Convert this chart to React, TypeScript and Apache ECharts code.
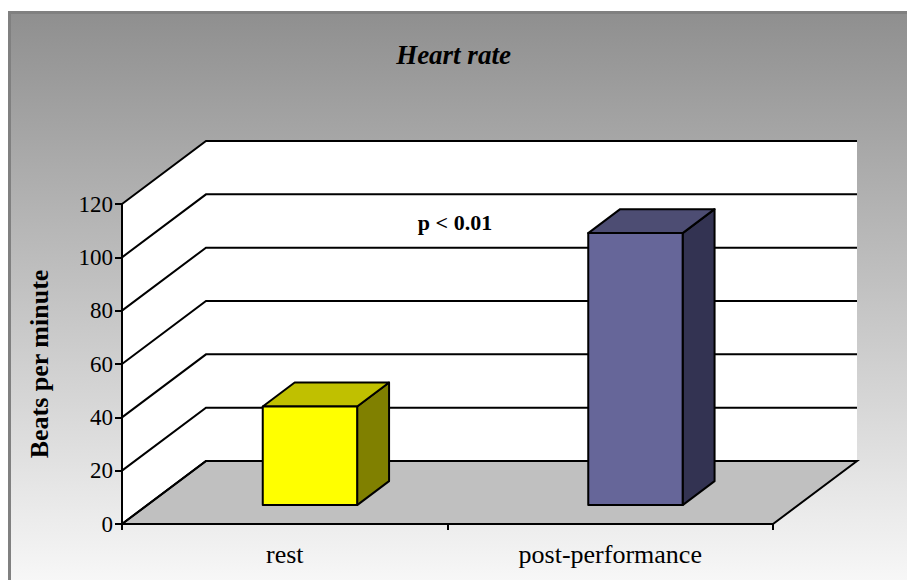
import React, { useEffect, useRef } from "react";
import * as echarts from "echarts";

const categories = ["rest", "post-performance"];
const beatsPerMinute = [37, 102];
const yTicks = [0, 20, 40, 60, 80, 100, 120];
const faceColors = ["#FFFF00", "#666699"];
const topColors = ["#C0C000", "#4D4D73"];
const sideColors = ["#808000", "#333352"];
const annotation = "p < 0.01";

const DX = 84;
const DY = -63;
const F1 = 0.3;
const F2 = 0.68;
const BAR_FRAC = 0.29;
const FONT = "'Liberation Serif', 'Times New Roman', serif";

export default function App() {
  const ref = useRef<HTMLDivElement>(null);
  useEffect(() => {
    if (!ref.current) return;
    const chart = echarts.init(ref.current, undefined, { renderer: "svg" });
    const yMax = yTicks[yTicks.length - 1];
    chart.setOption({
      animation: false,
      title: {
        text: "Heart rate",
        left: "center",
        top: 36,
        textStyle: { fontFamily: FONT, fontSize: 27, fontWeight: "bold", fontStyle: "italic", color: "#000" },
      },
      graphic: [
        {
          type: "rect",
          z: -10,
          shape: { x: 9.5, y: 12.5, width: 1000, height: 700 },
          style: {
            fill: new echarts.graphic.LinearGradient(0, 0, 0, 1, [
              { offset: 0, color: "#8f8f8f" },
              { offset: 0.85, color: "#fcfcfc" },
              { offset: 1, color: "#ffffff" },
            ]),
            stroke: "#808080",
            lineWidth: 3,
          },
        },
        {
          type: "text",
          x: 455,
          y: 222,
          z: 10,
          style: {
            text: annotation,
            align: "center",
            verticalAlign: "middle",
            font: `bold 22px ${FONT}`,
            fill: "#000",
          },
        },
      ],
      grid: { left: 122, right: 134, top: 204, bottom: 56 },
      xAxis: {
        type: "category",
        data: categories,
        boundaryGap: true,
        z: 5,
        axisLine: { show: true, lineStyle: { color: "#000", width: 2 } },
        axisTick: { show: true, length: 6, lineStyle: { color: "#000", width: 2 } },
        axisLabel: { fontFamily: FONT, fontSize: 26, color: "#000", margin: 17 },
        splitLine: { show: false },
      },
      yAxis: {
        type: "value",
        min: 0,
        max: yMax,
        interval: 20,
        z: 5,
        name: "Beats per minute",
        nameLocation: "middle",
        nameRotate: 90,
        nameGap: 70,
        nameTextStyle: { fontFamily: FONT, fontSize: 26, fontWeight: "bold", color: "#000" },
        axisLine: { show: true, lineStyle: { color: "#000", width: 2 } },
        axisTick: { show: true, length: 7, lineStyle: { color: "#000", width: 2 } },
        axisLabel: { fontFamily: FONT, fontSize: 23, color: "#000", margin: 9 },
        splitLine: { show: false },
      },
      series: [
        {
          type: "custom",
          z: 1,
          silent: true,
          data: [[0, 0]],
          renderItem: (params: any, api: any) => {
            const cs = params.coordSys;
            const L = cs.x;
            const R = cs.x + cs.width;
            const y0 = api.coord([0, 0])[1];
            const yTop = api.coord([0, yMax])[1];
            const children: any[] = [];
            children.push({
              type: "polygon",
              shape: { points: [[L, y0], [L + DX, y0 + DY], [L + DX, yTop + DY], [L, yTop]] },
              style: { fill: "#ffffff" },
            });
            children.push({
              type: "rect",
              shape: { x: L + DX, y: yTop + DY, width: R - L, height: y0 - yTop },
              style: { fill: "#ffffff" },
            });
            children.push({
              type: "polygon",
              shape: { points: [[L, y0], [R, y0], [R + DX, y0 + DY], [L + DX, y0 + DY]] },
              style: { fill: "#c0c0c0", stroke: "#000", lineWidth: 2 },
            });
            yTicks.forEach((v) => {
              const y = api.coord([0, v])[1];
              children.push({
                type: "polyline",
                shape: { points: [[L, y], [L + DX, y + DY], [R + DX, y + DY]] },
                style: { fill: null, stroke: "#000", lineWidth: 2 },
              });
            });
            return { type: "group", children };
          },
        },
        {
          type: "custom",
          z: 3,
          data: beatsPerMinute.map((v, i) => [i, v]),
          renderItem: (params: any, api: any) => {
            const idx = api.value(0);
            const val = api.value(1);
            const base = api.coord([idx, 0]);
            const top = api.coord([idx, val]);
            const w = api.size([1, 0])[0] * BAR_FRAC;
            const x1 = base[0] - w / 2 + F1 * DX;
            const x2 = x1 + w;
            const yb = base[1] + F1 * DY;
            const yt = top[1] + F1 * DY;
            const ddx = (F2 - F1) * DX;
            const ddy = (F2 - F1) * DY;
            const stroke = { stroke: "#000", lineWidth: 2, lineJoin: "round" };
            return {
              type: "group",
              children: [
                {
                  type: "polygon",
                  shape: { points: [[x2, yb], [x2 + ddx, yb + ddy], [x2 + ddx, yt + ddy], [x2, yt]] },
                  style: { fill: sideColors[idx], ...stroke },
                },
                {
                  type: "polygon",
                  shape: { points: [[x1, yt], [x2, yt], [x2 + ddx, yt + ddy], [x1 + ddx, yt + ddy]] },
                  style: { fill: topColors[idx], ...stroke },
                },
                {
                  type: "rect",
                  shape: { x: x1, y: yt, width: w, height: yb - yt },
                  style: { fill: faceColors[idx], ...stroke },
                },
              ],
            };
          },
        },
      ],
    });
    return () => chart.dispose();
  }, []);
  return (
    <div
      ref={ref}
      style={{ position: "fixed", left: 0, top: 0, width: 907, height: 580, background: "#ffffff" }}
    />
  );
}
